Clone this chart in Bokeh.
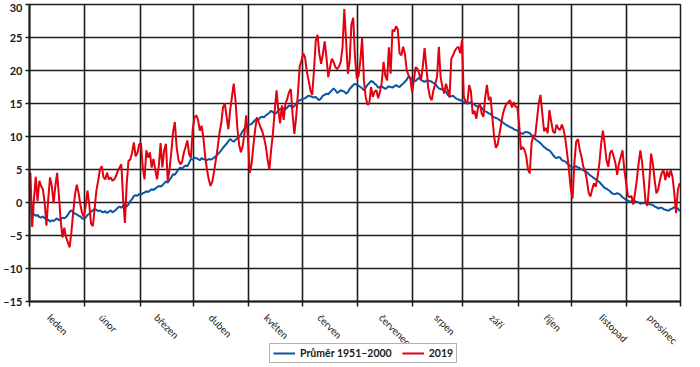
import math
from bokeh.plotting import figure
from bokeh.layouts import column
from bokeh.core.properties import value
from bokeh.models import (FixedTicker, CustomJSTickFormatter, Legend, LegendItem,
                          Range1d, ColumnDataSource)
from bokeh.embed import file_html
from bokeh.resources import INLINE

# ---------------- data ----------------
months = ["leden", "únor", "březen", "duben", "květen", "červen",
          "červenec", "srpen", "září", "říjen", "listopad", "prosinec"]
month_edges = [0, 31, 62, 92, 123, 153, 184, 215, 243, 274, 304, 335, 365]
label_days = [13.5, 42.5, 73.5, 104, 135, 165, 199.5, 230.5, 261.5, 292, 323, 350]
y_ticks = [-15, -10, -5, 0, 5, 10, 15, 20, 25, 30]

# Průměr 1951–2000 (daily)
avg_jan = [-1.3, -1.4, -1.8, -2.0, -1.9, -2.2, -2.3, -2.1, -2.4, -2.5, -2.6, -2.9, -2.7, -2.8, -2.6, -2.4,
           -2.7, -2.5, -2.3, -2.4, -2.2, -1.9, -1.4, -1.2, -1.5, -1.7, -1.8, -2.0, -2.1, -2.4, -2.5]
avg_feb = [-2.3, -1.9, -1.7, -1.4, -1.2, -1.0, -1.1, -1.3, -1.2, -1.4, -1.5, -1.3, -1.6, -1.4, -1.2, -1.5,
           -1.3, -1.1, -0.8, -0.6, -0.8, -0.5, -0.4, -0.6, -0.3, 0.2, 0.5, 1.0]
avg_mar = [1.1, 1.0, 1.3, 1.2, 1.4, 1.5, 1.7, 1.6, 1.8, 2.0, 1.9, 2.1, 2.3, 2.5, 2.4, 2.6, 2.9, 3.2, 3.0,
           3.4, 3.8, 4.3, 4.2, 4.6, 5.0, 5.3, 5.1, 5.4, 5.6, 5.5, 6.0]
avg_apr = [6.6, 6.5, 6.8, 6.7, 6.6, 6.4, 6.7, 6.6, 6.5, 6.4, 6.6, 6.5, 6.6, 6.8, 7.0, 7.3, 7.6, 7.9, 8.3,
           8.6, 8.9, 9.3, 9.6, 9.4, 9.2, 9.5, 9.7, 9.9, 10.3, 10.8]
avg_may = [11.2, 11.6, 11.9, 11.8, 11.9, 12.2, 12.5, 12.7, 12.6, 12.9, 13.0, 12.9, 13.2, 13.4, 13.6, 13.9,
           13.7, 13.4, 13.6, 13.9, 14.2, 14.0, 14.3, 14.1, 14.4, 14.7, 14.6, 14.4, 14.6, 15.0, 15.3]
avg_jun = [15.5, 15.6, 15.7, 15.8, 16.0, 16.2, 16.1, 16.0, 15.9, 16.0, 15.7, 15.5, 15.8, 16.2, 16.3, 16.5,
           16.4, 16.7, 17.0, 17.3, 17.0, 16.6, 16.8, 17.0, 16.9, 16.8, 16.5, 16.7, 17.2, 17.5]
avg_jul = [17.8, 18.0, 17.8, 17.7, 17.5, 17.3, 17.0, 17.4, 17.8, 18.1, 18.4, 18.3, 18.0, 17.8, 17.4, 17.5,
           17.6, 17.4, 17.2, 17.4, 17.6, 17.5, 17.4, 17.6, 17.8, 17.6, 17.5, 17.8, 18.0, 18.3, 18.6]
avg_aug = [19.1, 18.9, 18.6, 18.5, 18.4, 18.7, 18.9, 18.6, 18.4, 18.3, 18.4, 18.5, 18.4, 18.3, 18.1, 18.0,
           17.6, 17.3, 17.2, 17.1, 17.0, 16.8, 16.3, 16.0, 16.1, 16.2, 15.9, 15.7, 15.6, 15.5, 15.4]
avg_sep = [15.2, 15.1, 15.0, 15.1, 15.2, 15.0, 14.8, 14.6, 14.5, 14.6, 14.4, 14.0, 13.8, 13.7, 13.5, 13.4,
           13.1, 12.9, 12.8, 12.7, 12.5, 12.3, 12.1, 11.9, 11.7, 11.6, 11.4, 11.3, 11.1, 11.0]
avg_oct = [10.9, 10.6, 10.5, 10.4, 10.6, 10.7, 10.6, 10.5, 10.2, 9.9, 9.6, 9.4, 9.2, 9.0, 8.7, 8.4, 8.2,
           8.0, 7.9, 7.6, 7.2, 6.9, 6.7, 6.9, 6.8, 6.4, 6.3, 6.2, 5.9, 5.7, 5.4]
avg_nov = [5.3, 5.4, 5.5, 5.3, 5.2, 5.0, 4.9, 4.7, 4.6, 4.3, 4.1, 3.9, 3.7, 3.5, 3.3, 3.1, 2.8, 2.5, 2.2,
           2.1, 1.9, 1.7, 1.4, 1.3, 1.3, 1.4, 1.3, 1.1, 0.8, 0.6]
avg_dec = [0.4, 0.3, 0.1, 0.2, 0.3, 0.2, 0.1, 0.0, -0.2, -0.1, -0.1, 0.1, 0.0, -0.2, -0.3, -0.4, -0.6,
           -0.7, -0.9, -0.8, -0.8, -1.0, -1.1, -1.2, -1.2, -1.0, -0.9, -0.7, -0.8, -0.9, -1.3]

# 2019 (daily)
t19_jan = [4.5, -3.7, 0.5, 3.9, 0.2, 3.3, 2.5, 2.0, 0.0, -3.5, 0.5, 3.8, 2.5, -0.1, 2.5, 4.5, 1.0, -2.8,
           -5.3, -3.8, -5.3, -6.0, -6.8, -4.5, -1.5, 1.2, 2.7, 1.5, -0.3, -1.6, -2.2]
t19_feb = [-0.5, 1.8, -0.3, -3.2, -3.6, -1.0, 1.8, 3.3, 5.0, 5.5, 3.8, 3.5, 4.5, 3.5, 3.8, 3.3, 3.5, 4.0,
           4.8, 5.3, 5.8, 0.5, -3.1, 2.8, 6.3, 6.5, 7.5, 9.1]
t19_mar = [7.0, 7.5, 8.8, 9.0, 5.3, 3.5, 7.9, 6.8, 7.6, 5.3, 6.6, 5.0, 3.5, 5.5, 9.0, 5.3, 7.9, 8.9, 3.3,
           5.0, 7.6, 10.7, 12.2, 8.4, 6.5, 5.8, 6.1, 7.5, 8.4, 9.4, 7.3]
t19_apr = [6.8, 11.0, 12.9, 13.2, 12.5, 10.9, 11.6, 9.8, 7.0, 5.0, 3.5, 2.5, 3.2, 4.7, 6.5, 8.3, 10.5, 12.0,
           14.4, 15.0, 13.0, 11.1, 14.0, 16.0, 18.0, 15.5, 11.4, 8.8, 7.6, 8.5]
t19_may = [10.4, 13.2, 9.5, 4.5, 5.8, 8.5, 11.0, 12.9, 12.2, 11.4, 10.8, 9.8, 8.5, 6.5, 5.0, 8.0, 10.5,
           14.0, 17.0, 14.0, 12.0, 14.7, 12.5, 15.0, 15.7, 16.7, 17.2, 13.4, 10.4, 12.9, 16.5]
t19_jun = [20.6, 21.5, 22.6, 22.0, 19.8, 18.5, 17.0, 16.3, 20.0, 24.5, 25.4, 22.5, 21.0, 22.5, 24.4, 22.0,
           19.0, 20.5, 21.8, 21.3, 20.5, 20.2, 20.6, 21.3, 23.5, 29.3, 24.5, 19.5, 21.5, 27.0]
t19_jul = [28.0, 22.0, 18.8, 19.2, 21.5, 24.9, 18.5, 16.0, 14.8, 15.0, 17.5, 16.0, 16.8, 17.0, 15.8, 16.8,
           18.2, 21.3, 19.2, 18.5, 23.5, 19.5, 26.2, 25.9, 26.7, 26.2, 22.6, 22.3, 23.6, 22.5, 20.0]
t19_aug = [19.3, 18.8, 16.7, 18.5, 20.5, 20.3, 19.5, 18.5, 20.6, 23.4, 20.5, 17.5, 16.0, 15.5, 17.0, 18.0,
           19.0, 23.6, 19.0, 17.5, 16.5, 18.0, 17.0, 16.0, 21.8, 22.3, 23.0, 23.4, 23.6, 22.6, 24.6]
t19_sep = [16.0, 15.3, 15.0, 17.8, 16.8, 13.4, 13.9, 12.7, 14.4, 15.0, 13.5, 13.0, 16.0, 17.8, 15.5, 16.0,
           12.9, 10.0, 8.3, 8.8, 10.4, 12.0, 13.5, 14.4, 15.0, 15.2, 15.5, 14.4, 15.2, 14.5]
t19_oct = [14.5, 12.0, 8.0, 8.4, 8.0, 7.0, 5.0, 4.4, 9.0, 10.2, 10.0, 12.5, 15.0, 16.3, 13.5, 10.8, 11.3,
           10.5, 14.0, 12.3, 10.8, 10.5, 11.8, 11.2, 11.0, 11.8, 11.0, 9.5, 7.3, 4.8, 2.0]
t19_nov = [0.6, 6.0, 9.2, 9.6, 8.0, 6.9, 5.4, 4.9, 3.4, 1.5, 0.9, 2.0, 2.9, 2.4, 3.9, 5.9, 8.9, 10.9, 8.9,
           6.4, 5.4, 7.5, 7.9, 7.0, 6.0, 4.2, 5.9, 6.9, 7.9, 5.0]
t19_dec = [3.0, 1.0, 0.8, 1.0, -0.3, 1.4, 3.4, 5.9, 7.9, 6.0, 3.0, -0.1, -0.5, 3.0, 7.4, 5.9, 3.4, 1.4,
           2.0, 3.4, 4.5, 4.9, 3.4, 4.8, 3.8, 4.9, 3.9, 1.5, -1.6, 1.9, 2.9]

avg = (avg_jan + avg_feb + avg_mar + avg_apr + avg_may + avg_jun +
       avg_jul + avg_aug + avg_sep + avg_oct + avg_nov + avg_dec)
t2019 = (t19_jan + t19_feb + t19_mar + t19_apr + t19_may + t19_jun +
         t19_jul + t19_aug + t19_sep + t19_oct + t19_nov + t19_dec)
assert len(avg) == 365 and len(t2019) == 365

day = [d + 0.5 for d in range(365)]
src = ColumnDataSource(dict(day=day, avg=avg, t2019=t2019))

FONT = "Lato"
GRID = "#1c1c1c"
BLUE = "#0b55a3"
RED = "#e3000f"

W = 684
P_H, Q_H = 309, 55

# ---------------- main chart ----------------
p = figure(width=W, height=P_H, output_backend="svg", toolbar_location=None,
           x_range=Range1d(0, 365), y_range=Range1d(-15, 30),
           min_border_left=24, min_border_right=4,
           min_border_top=4, min_border_bottom=8)
p.background_fill_color = "white"
p.border_fill_color = "white"
p.outline_line_color = GRID
p.outline_line_width = 1.5

rb = p.line("day", "avg", source=src, line_color=BLUE, line_width=2)
rr = p.line("day", "t2019", source=src, line_color=RED, line_width=2)

# x axis: only tick marks at the month boundaries
p.xaxis.ticker = FixedTicker(ticks=[], minor_ticks=month_edges)
p.xaxis.major_label_text_font_size = "0px"
p.xaxis.major_label_standoff = 0
p.xaxis.major_tick_line_color = None
p.xaxis.minor_tick_line_color = GRID
p.xaxis.minor_tick_line_width = 1.5
p.xaxis.minor_tick_out = 5
p.xaxis.minor_tick_in = 0
p.xaxis.axis_line_color = GRID
p.xaxis.axis_line_width = 2
p.xgrid.ticker = FixedTicker(ticks=month_edges)
p.xgrid.grid_line_color = GRID
p.xgrid.grid_line_width = 1.6

# y axis
p.yaxis.ticker = FixedTicker(ticks=y_ticks)
p.yaxis.formatter = CustomJSTickFormatter(code="""
return tick < 0 ? '\\u2013' + Math.abs(tick) : String(tick);
""")
p.yaxis.major_tick_out = 4
p.yaxis.major_tick_in = 0
p.yaxis.minor_tick_line_color = None
p.yaxis.major_tick_line_color = GRID
p.yaxis.major_tick_line_width = 1.5
p.yaxis.axis_line_color = GRID
p.yaxis.axis_line_width = 2
p.yaxis.major_label_text_font = FONT
p.yaxis.major_label_text_font_size = "11px"
p.yaxis.major_label_text_font_style = "bold"
p.yaxis.major_label_text_color = "#1a1a1a"
p.yaxis.major_label_standoff = 3
p.ygrid.grid_line_color = GRID
p.ygrid.grid_line_width = 1.6

# ---------------- strip below: month names + legend ----------------
# shares the day scale of the main chart (frames are aligned in the column);
# y runs in pixels down from the top of the strip
q = figure(width=W, height=Q_H, output_backend="svg", toolbar_location=None,
           x_range=p.x_range, y_range=Range1d(Q_H, 0),
           x_axis_type=None, y_axis_type=None,
           min_border_left=24, min_border_right=4, min_border_top=0, min_border_bottom=0)
q.outline_line_color = None
q.grid.visible = False
q.background_fill_color = "white"
q.border_fill_color = "white"

q.text(x=label_days, y=2, text=months, angle=-math.pi / 4,
       text_font=value(FONT), text_font_size="10px", text_color="#1a1a1a",
       text_align="left", text_baseline="top")

q.extra_y_ranges = {"hidden": Range1d(1000, 2000)}
lb = q.line(x=day, y=avg, line_color=BLUE, line_width=2, y_range_name="hidden")
lr = q.line(x=day, y=t2019, line_color=RED, line_width=2, y_range_name="hidden")
legend = Legend(items=[LegendItem(label="Průměr 1951–2000", renderers=[lb]),
                       LegendItem(label="2019", renderers=[lr])],
                orientation="horizontal", location=(240, 1),
                border_line_color="#666666", border_line_width=1,
                background_fill_color="white", background_fill_alpha=1.0,
                label_text_font=FONT, label_text_font_size="10.5px",
                label_text_font_style="bold", label_text_color="#1a1a1a",
                glyph_width=22, glyph_height=10, spacing=10, padding=3,
                label_standoff=5, margin=0, label_height=10)
q.add_layout(legend, "center")

layout = column(p, q, spacing=0)
open("out.html", "w").write(file_html(layout, INLINE))
